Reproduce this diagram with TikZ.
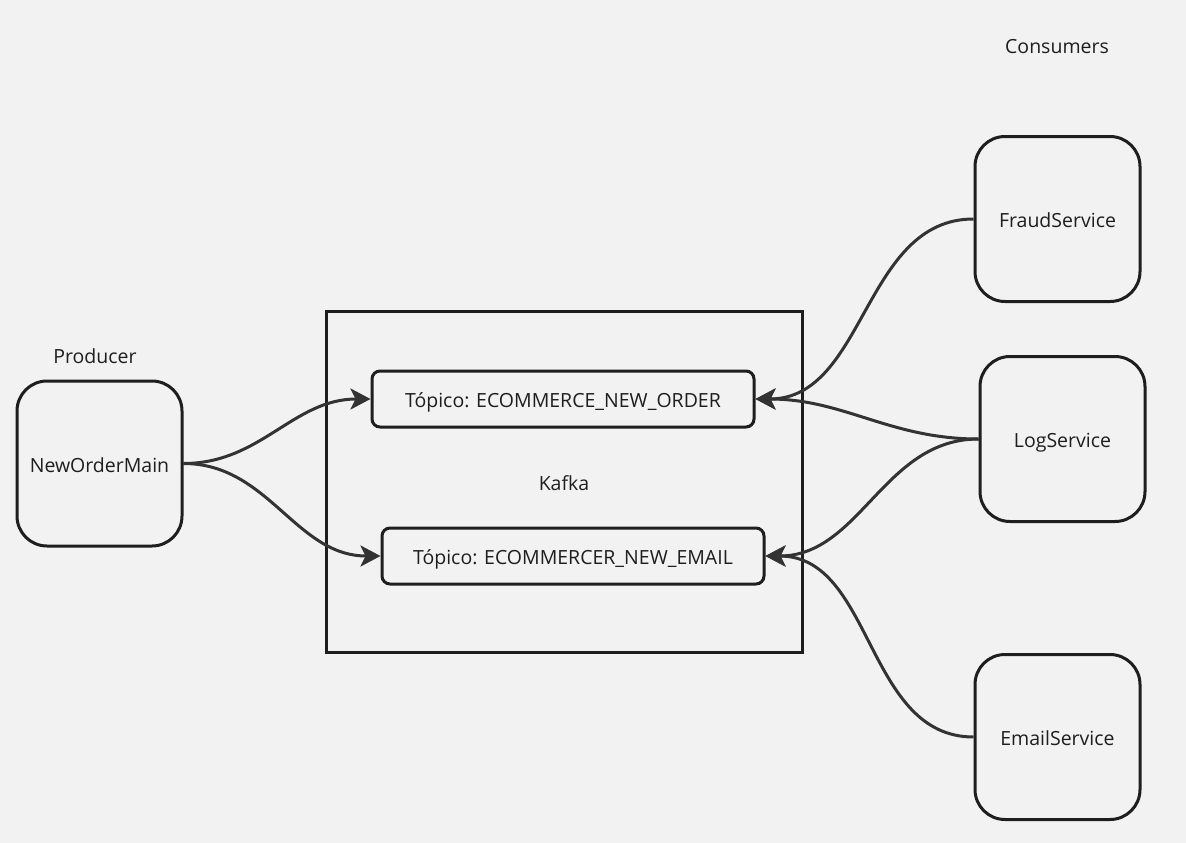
\documentclass[tikz,border=0pt]{standalone}
\usepackage{fontspec}
\setmainfont{Open Sans}
\usetikzlibrary{arrows.meta}
\definecolor{bgGray}{HTML}{F2F2F2}
\definecolor{inkGray}{HTML}{333333}
\definecolor{boxLine}{HTML}{1E1E1E}

\begin{document}
\begin{tikzpicture}[x=1pt, y=-1pt,
    every node/.style={font=\fontsize{19.5}{23}\selectfont, text=boxLine,
      text height=17pt, text depth=0pt},
    service/.style={draw=boxLine, line width=3pt, rounded corners=30pt,
      minimum width=165pt, minimum height=165pt, inner sep=0pt},
    topic/.style={draw=boxLine, line width=3pt, rounded corners=8pt,
      minimum width=382pt, minimum height=56pt, inner sep=0pt},
    link/.style={draw=inkGray, line width=3pt,
      -{Stealth[length=20pt, width=21pt, inset=5pt]}}]
    \fill[bgGray] (0,0) rectangle (1186,843);
    \useasboundingbox (0,0) rectangle (1186,843);
    % kafka cluster
    \draw[boxLine, line width=3pt] (326,311) rectangle (802,652);
    \node (kafka) at (564,482) {Kafka};
    \node[topic] (order) at (563,399) {Tópico: ECOMMERCE\_NEW\_ORDER};
    \node[topic] (email) at (573,556) {Tópico: ECOMMERCER\_NEW\_EMAIL};
    % producer
    \node (prodlabel) at (95,355) {Producer};
    \node[service] (main) at (99.5,463.5) {NewOrderMain};
    % consumers
    \node (conslabel) at (1057,45) {Consumers};
    \node[service] (fraud) at (1057.5,219) {FraudService};
    \node[service] (log) at (1062.5,439) {LogService};
    \node[service] (mail) at (1057.5,737) {EmailService};
    % connectors
    \draw[link] (main.east) to[out=0, in=180] (order.west);
    \draw[link] (main.east) to[out=0, in=180] (email.west);
    \draw[link] (fraud.west) to[out=180, in=0] (order.east);
    \draw[link] (log.west) to[out=180, in=0] (order.east);
    \draw[link] (log.west) to[out=180, in=0] (email.east);
    \draw[link] (mail.west) to[out=180, in=0] (email.east);
\end{tikzpicture}
\end{document}
